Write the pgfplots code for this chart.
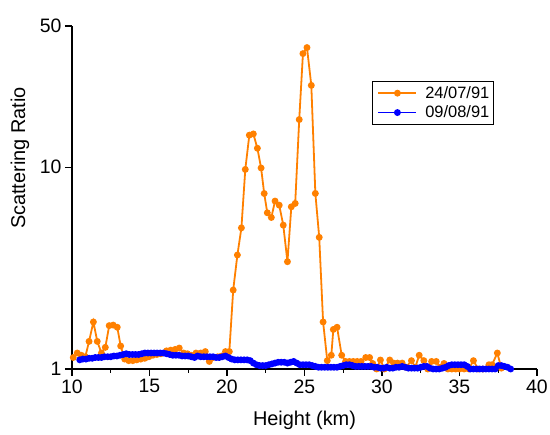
\documentclass[border=0pt]{standalone}
\usepackage{fontspec}
\setmainfont{Liberation Sans}
\usepackage{pgfplots}
\pgfplotsset{compat=1.18}
\definecolor{sr1}{RGB}{255,128,0}
\definecolor{sr2}{RGB}{0,0,255}

\begin{document}
\begin{tikzpicture}
\useasboundingbox (-72bp,-66bp) rectangle (478bp,369bp);
\begin{axis}[
  scale only axis,
  width=465bp, height=343bp,
  ymode=log,
  xmin=10, xmax=40, ymin=1, ymax=50,
  xtick={10,15,...,40},
  minor x tick num=1,
  ytick={1,10,50},
  yticklabels={1,10,50},
  axis x line*=bottom,
  axis y line*=left,
  axis line style={line width=1.3bp, -},
  tick align=outside,
  major tick length=7bp,
  minor tick length=4bp,
  every tick/.style={black, line width=1.1bp},
  tick label style={font=\fontsize{19.5}{22}\selectfont},
  /pgf/number format/assume math mode=true,
  xlabel={Height (km)},
  ylabel={Scattering Ratio},
  label style={font=\fontsize{20}{24}\selectfont},
  xlabel style={at={(axis description cs:0.5,-0.149)}, anchor=center},
  ylabel style={at={(axis description cs:-0.112,0.615)}, anchor=center, rotate=0},
  legend style={at={(0.645,0.84)}, anchor=north west, draw=black, line width=1.2bp,
    font=\fontsize{16.5}{19}\selectfont, nodes={font=\fontsize{16.5}{19}\selectfont},
    row sep=2bp, inner xsep=2bp, inner ysep=3bp},
  legend cell align=left,
  legend image code/.code={%
    \path (-3bp,0bp) (44bp,0bp);
    \draw[mark repeat=2, mark phase=2] plot coordinates {(0bp,0bp) (19bp,0bp) (38bp,0bp)};},
]
\addplot[color=sr1, line width=1.8bp, mark=*, mark size=2.5bp, mark options={solid}] coordinates {
(10.08,1.14) (10.34,1.20) (10.60,1.17) (10.86,1.15) (11.10,1.37) (11.38,1.71)
(11.63,1.37) (11.90,1.20) (12.15,1.28) (12.40,1.64) (12.66,1.65) (12.92,1.61)
(13.14,1.30) (13.40,1.12) (13.66,1.10) (13.92,1.10) (14.18,1.11) (14.44,1.12)
(14.70,1.13) (14.96,1.15) (15.22,1.17) (15.48,1.18) (15.74,1.19) (16.10,1.23)
(16.37,1.24) (16.65,1.25) (16.92,1.27) (17.20,1.20) (17.45,1.19) (17.70,1.17)
(18.00,1.20) (18.30,1.20) (18.60,1.22) (18.86,1.09) (19.10,1.14) (19.40,1.15)
(19.65,1.16) (19.90,1.22) (20.15,1.22) (20.40,2.46) (20.67,3.67) (20.93,5.00)
(21.18,9.74) (21.44,14.4) (21.70,14.6) (21.96,12.4) (22.20,9.9) (22.40,7.4)
(22.60,5.94) (22.86,5.63) (23.10,6.79) (23.37,6.48) (23.63,5.16) (23.90,3.40)
(24.15,6.36) (24.40,6.61) (24.66,17.2) (24.90,36.5) (25.16,39.1) (25.44,25.4)
(25.70,7.41) (25.95,4.49) (26.20,1.71) (26.47,1.10) (26.73,1.17) (26.86,1.57)
(27.10,1.61) (27.40,1.17) (27.65,1.09) (27.90,1.09) (28.15,1.09) (28.40,1.09)
(28.65,1.09) (28.95,1.14) (29.20,1.14) (29.40,1.065) (29.65,1.00) (29.90,1.108)
(30.15,1.00) (30.50,1.108) (30.75,1.07) (31.00,1.07) (31.30,1.07) (31.55,1.02)
(31.90,1.10) (32.15,1.02) (32.40,1.17) (32.70,1.10) (32.95,1.00) (33.20,1.09)
(33.50,1.09) (33.75,1.02) (34.00,1.065) (34.25,1.00) (34.50,1.00) (34.75,1.00)
(35.00,1.00) (35.30,1.00) (35.60,1.00) (35.90,1.10) (36.20,1.00) (36.50,1.00)
(36.90,1.05) (37.10,1.05) (37.44,1.20) (37.70,1.01)
};
\addlegendentry{24/07/91}
\addplot[color=sr2, line width=1.8bp, mark=*, mark size=2.5bp, mark options={solid}] coordinates {
(10.5,1.11) (10.7,1.12) (10.9,1.12) (11.1,1.13) (11.3,1.13) (11.5,1.14) (11.7,1.14)
(11.9,1.14) (12.1,1.15) (12.3,1.15) (12.5,1.15) (12.7,1.16) (12.9,1.16) (13.1,1.17)
(13.3,1.18) (13.5,1.19) (13.7,1.18) (13.9,1.18) (14.1,1.18) (14.3,1.18) (14.5,1.19)
(14.7,1.20) (14.9,1.20) (15.1,1.20) (15.3,1.20) (15.5,1.20) (15.7,1.20) (15.9,1.20)
(16.1,1.19) (16.3,1.18) (16.5,1.17) (16.7,1.17) (16.9,1.17) (17.1,1.16) (17.3,1.16)
(17.5,1.16) (17.7,1.15) (17.9,1.14) (18.1,1.16) (18.3,1.15) (18.5,1.15) (18.7,1.15)
(18.9,1.15) (19.1,1.15) (19.3,1.14) (19.5,1.14) (19.7,1.15) (19.9,1.16) (20.1,1.14)
(20.3,1.12) (20.5,1.11) (20.7,1.11) (20.9,1.11) (21.1,1.11) (21.3,1.11) (21.5,1.10)
(21.7,1.07) (21.9,1.05) (22.1,1.04) (22.3,1.04) (22.5,1.04) (22.7,1.05) (22.9,1.06)
(23.1,1.07) (23.3,1.08) (23.5,1.08) (23.7,1.08) (23.9,1.07) (24.1,1.08) (24.3,1.09)
(24.5,1.07) (24.7,1.05) (24.9,1.05) (25.1,1.05) (25.3,1.05) (25.5,1.04) (25.7,1.03)
(25.9,1.02) (26.1,1.02) (26.3,1.02) (26.5,1.02) (26.7,1.02) (26.9,1.02) (27.1,1.02)
(27.3,1.03) (27.5,1.04) (27.7,1.05) (27.9,1.05) (28.1,1.04) (28.3,1.03) (28.5,1.03)
(28.7,1.03) (28.9,1.03) (29.1,1.03) (29.3,1.03) (29.5,1.02) (29.7,1.02) (29.9,1.01)
(30.1,1.01) (30.3,1.02) (30.5,1.01) (30.7,1.01) (30.9,1.02) (31.1,1.02) (31.3,1.03)
(31.5,1.02) (31.7,1.01) (31.9,1.01) (32.1,1.01) (32.3,1.01) (32.5,1.02) (32.7,1.03)
(32.9,1.03) (33.1,1.01) (33.3,1.00) (33.5,1.00) (33.7,1.00) (33.9,1.01) (34.1,1.02)
(34.3,1.04) (34.5,1.05) (34.7,1.05) (34.9,1.05) (35.1,1.05) (35.3,1.05) (35.5,1.03)
(35.7,1.00) (35.9,1.00) (36.1,1.00) (36.3,1.00) (36.5,1.00) (36.7,1.00) (36.9,1.00)
(37.1,1.00) (37.3,1.00) (37.5,1.04) (37.7,1.04) (37.9,1.03) (38.1,1.02) (38.3,1.00)
};
\addlegendentry{09/08/91}
\end{axis}
\end{tikzpicture}
\end{document}
